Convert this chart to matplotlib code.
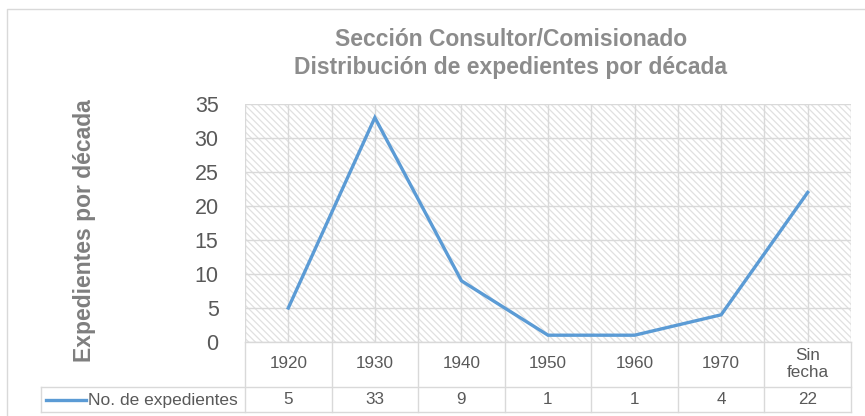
import matplotlib
matplotlib.use("Agg")
import matplotlib.pyplot as plt
from matplotlib.patches import Rectangle
from matplotlib.lines import Line2D

categories = ["1920", "1930", "1940", "1950", "1960", "1970", "Sin\nfecha"]
values = [5, 33, 9, 1, 1, 4, 22]
series_name = "No. de expedientes"
yticks = [0, 5, 10, 15, 20, 25, 30, 35]
title = "Sección Consultor/Comisionado\nDistribución de expedientes por década"
ylabel = "Expedientes por década"

plt.rcParams['font.family'] = ['Liberation Sans', 'DejaVu Sans']
plt.rcParams['hatch.linewidth'] = 0.9

W, H = 865, 416
fig = plt.figure(figsize=(W / 100, H / 100), dpi=100)

def fx(px):
    return px / W

def fy(py):
    return 1 - py / H

# plot area in pixels
L, R, T, B = 245, 851, 104, 342
ax = fig.add_axes([fx(L), fy(B), fx(R - L), (B - T) / H])
n = len(categories)
ax.set_xlim(-0.5, n - 0.5)
ax.set_ylim(0, 35)

grid_c = '#d9d9d9'
# hatched background
ax.add_patch(Rectangle((0, 0), 1, 1, transform=ax.transAxes, facecolor='white',
                       edgecolor='#e0e0e0', hatch='\\' * 5, linewidth=0, zorder=0))
for y in yticks:
    ax.axhline(y, color=grid_c, lw=1, zorder=1)
for i in range(n):
    ax.axvline(i, color=grid_c, lw=1, zorder=1)
    ax.axvline(i - 0.5, color=grid_c, lw=1, zorder=1)
ax.axvline(n - 0.5, color=grid_c, lw=1, zorder=1)

ax.plot(range(n), values, color='#5b9bd5', lw=2.4, zorder=3, solid_joinstyle='miter')

for s in ax.spines.values():
    s.set_visible(False)
ax.set_xticks([])
ax.set_yticks(yticks)
ax.tick_params(axis='y', length=0, pad=19, labelsize=15.5, labelcolor='#595959')

# y label
fig.text(fx(85), fy(231), ylabel, rotation=90, ha='center', va='center',
         fontsize=16.5, fontweight='bold', color='#7f7f7f')

# title
fig.text(fx(511), fy(53.5), title, ha='center', va='center', fontsize=16.5,
         fontweight='bold', color='#8c8c8c', linespacing=1.3)

# data table
colw = (R - L) / n
row1_bot, row2_bot = 387, 412
leg_left = 41
tc = '#d9d9d9'

def hline(x0, x1, y):
    fig.add_artist(Line2D([fx(x0), fx(x1)], [fy(y), fy(y)], color=tc, lw=1))

def vline(x, y0, y1):
    fig.add_artist(Line2D([fx(x), fx(x)], [fy(y0), fy(y1)], color=tc, lw=1))

hline(L, R, B)
hline(leg_left, R, row1_bot)
hline(leg_left, R, row2_bot)
vline(leg_left, row1_bot, row2_bot)
for i in range(n + 1):
    vline(L + i * colw, B, row2_bot)

for i, (c, v) in enumerate(zip(categories, values)):
    cx = L + (i + 0.5) * colw
    fig.text(fx(cx), fy(364), c, ha='center', va='center', fontsize=12.3,
             color='#595959', linespacing=1.15)
    fig.text(fx(cx), fy(400), str(v), ha='center', va='center', fontsize=12.3,
             color='#595959')

# legend key
fig.add_artist(Line2D([fx(46), fx(86)], [fy(400), fy(400)], color='#5b9bd5', lw=2.4))
fig.text(fx(88), fy(400), series_name, ha='left', va='center', fontsize=12.5,
         color='#595959')

# outer chart border
fig.add_artist(Line2D([fx(7), fx(7), fx(864)], [fy(420), fy(9), fy(9)],
                      color='#d9d9d9', lw=1))

fig.savefig("out.png", dpi=100)
